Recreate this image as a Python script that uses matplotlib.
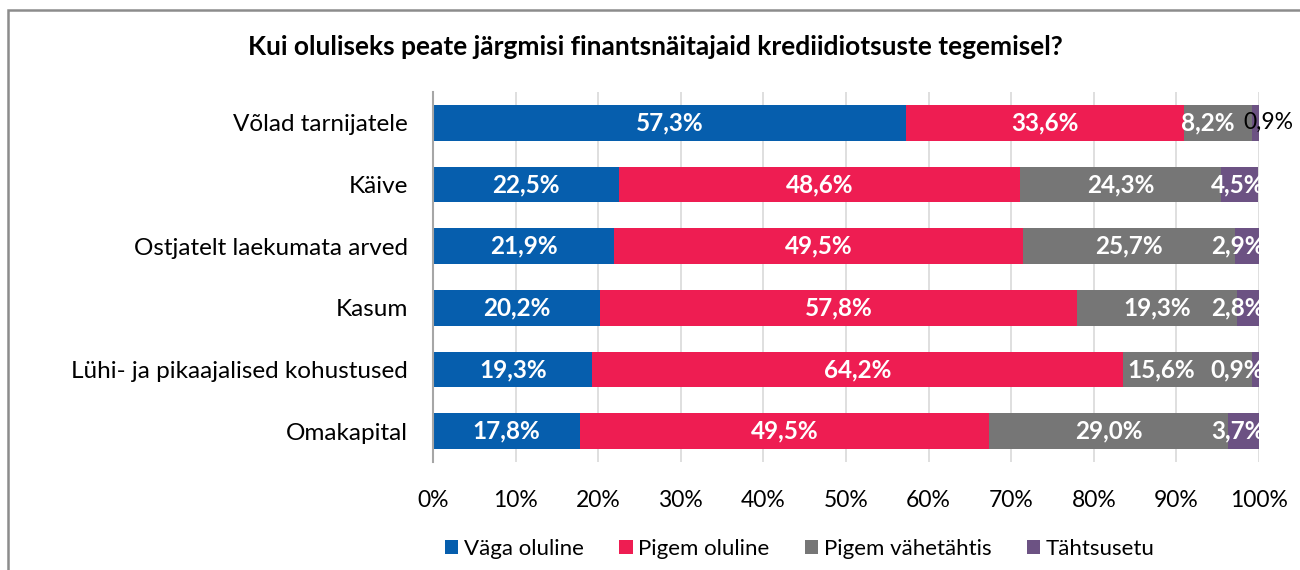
import matplotlib
matplotlib.use("Agg")
import matplotlib.pyplot as plt
from matplotlib.patches import Rectangle
import numpy as np

plt.rcParams['font.family'] = ['Lato', 'DejaVu Sans']

title = "Kui oluliseks peate järgmisi finantsnäitajaid krediidiotsuste tegemisel?"
categories = ["Võlad tarnijatele", "Käive", "Ostjatelt laekumata arved", "Kasum",
              "Lühi- ja pikaajalised kohustused", "Omakapital"]
series_names = ["Väga oluline", "Pigem oluline", "Pigem vähetähtis", "Tähtsusetu"]
vaga = [57.3, 22.5, 21.9, 20.2, 19.3, 17.8]
pigem = [33.6, 48.6, 49.5, 57.8, 64.2, 49.5]
vahe = [8.2, 24.3, 25.7, 19.3, 15.6, 29.0]
tahtsusetu = [0.9, 4.5, 2.9, 2.8, 0.9, 3.7]
xticks = [0, 10, 20, 30, 40, 50, 60, 70, 80, 90, 100]
colors = ["#065EAD", "#EE1D52", "#767676", "#6C5283"]

fig = plt.figure(figsize=(13, 5.7), dpi=100)
ax = fig.add_axes([433/1300, 1-462/570, (1259-433)/1300, (462-92)/570])

series = [vaga, pigem, vahe, tahtsusetu]
y = np.arange(len(categories))
data = np.array(series)  # shape (4, n)
lefts = np.vstack([np.zeros(len(categories)), np.cumsum(data, axis=0)[:-1]])

for si, (col, name) in enumerate(zip(colors, series_names)):
    ax.barh(y, data[si], left=lefts[si], height=0.58, color=col, label=name, zorder=3)

for i in range(len(categories)):
    centers = lefts[:, i] + data[:, i] / 2
    last = min(centers[3], 97.4)
    third = min(centers[2], last - 9.3)
    pos = [centers[0], centers[1], third, last]
    for si in range(4):
        v = data[si, i]
        lab = f"{v:.1f}%".replace('.', ',')
        if si == 3 and i == 0:
            ax.text(lefts[si, i] + v - 1.9, y[i], lab, ha='left', va='center',
                    fontsize=16.5, color='black', zorder=5, clip_on=False)
        else:
            ax.text(pos[si] if si != 2 or i != 0 else centers[2] - 1.2, y[i], lab,
                    ha='center', va='center', fontsize=17.5,
                    color='white', fontweight='bold', zorder=5, clip_on=True)

ax.set_xlim(0, 100)
ax.set_ylim(len(categories)-0.5, -0.5)
ax.set_yticks(y)
ax.set_yticklabels(categories, fontsize=17.5)
ax.set_xticks(xticks)
ax.set_xticklabels([f"{t}%" for t in xticks], fontsize=16.5)
ax.tick_params(axis='both', length=0)
ax.tick_params(axis='y', pad=18)
ax.tick_params(axis='x', pad=20)
ax.grid(axis='x', color='#D9D9D9', linewidth=1.2, zorder=0)
for s in ['top', 'right', 'bottom']:
    ax.spines[s].set_visible(False)
ax.spines['left'].set_color('#A6A6A6')
ax.spines['left'].set_linewidth(1.5)
ax.spines['left'].set_zorder(4)

fig.text(655/1300, 1-47/570, title, ha='center', va='center', fontsize=19, fontweight='bold')

ax.legend(loc='center', bbox_to_anchor=(800/1300, 1-549/570), bbox_transform=fig.transFigure,
          ncol=4, frameon=False, fontsize=16, handlelength=0.6, handleheight=0.6,
          handletextpad=0.25, columnspacing=1.6)

fig.patches.append(Rectangle((8/1300, -0.2), 2, 1.2 - 10/570,
                             transform=fig.transFigure, fill=False,
                             edgecolor='#8C8C8C', linewidth=1.8))

fig.savefig("out.png", dpi=100)
